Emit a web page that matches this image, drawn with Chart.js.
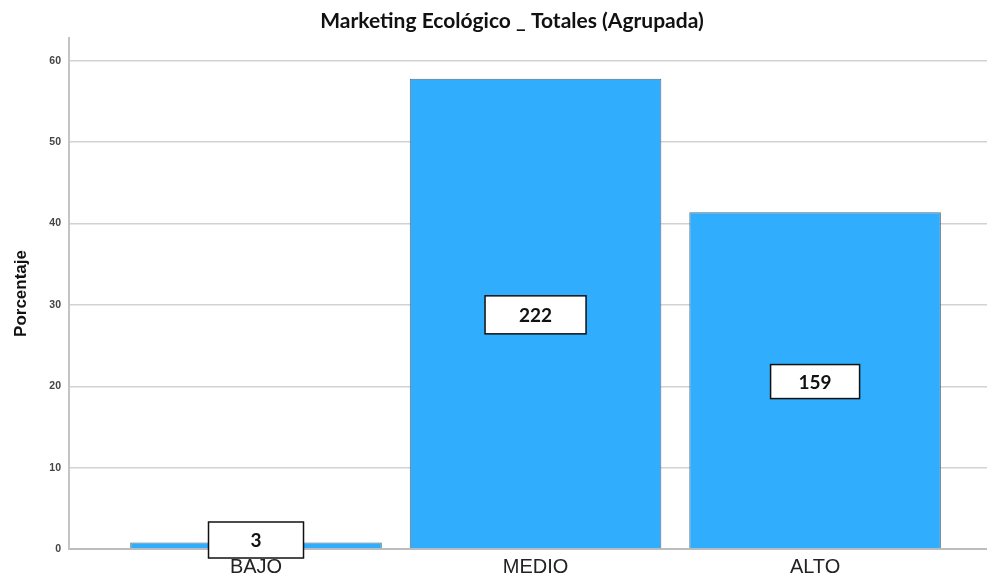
<!DOCTYPE html>
<html>
<head>
<meta charset="utf-8">
<script src="https://cdn.jsdelivr.net/npm/chart.js@4/dist/chart.umd.min.js"></script>
<style>
  html, body { margin: 0; padding: 0; background: #fff; }
  #wrap { width: 987px; height: 577px; }
</style>
</head>
<body>
<div id="wrap"><canvas id="chart" width="987" height="577"></canvas></div>
<script>
const categories = ['BAJO', 'MEDIO', 'ALTO'];
const counts = [3, 222, 159];
const percentages = [0.8, 57.8, 41.4];
const yTicks = [0, 10, 20, 30, 40, 50, 60];
const chartTitle = 'Marketing Ecológico _ Totales (Agrupada)';

// title drawn over the plot, a bit right of the canvas centre like the original
const titlePlugin = {
  id: 'titleText',
  afterDraw(chart) {
    const ctx = chart.ctx;
    ctx.save();
    ctx.font = 'bold 21px Lato, "Open Sans", sans-serif';
    ctx.fillStyle = '#111';
    ctx.textAlign = 'center';
    ctx.textBaseline = 'middle';
    ctx.fillText(chartTitle, 512, 21);
    ctx.restore();
  }
};

// white boxed count label in the middle of each bar
const countBoxes = {
  id: 'countBoxes',
  afterDatasetsDraw(chart) {
    const ctx = chart.ctx;
    const meta = chart.getDatasetMeta(0);
    const yScale = chart.scales.y;
    const boxW = [95, 101, 89];
    const boxH = [36, 38, 34];
    meta.data.forEach((bar, i) => {
      const w = boxW[i], h = boxH[i];
      let cy = yScale.getPixelForValue(percentages[i] / 2) + 1;
      cy = Math.min(cy, yScale.bottom - 9);
      const x = bar.x - w / 2, y = cy - h / 2;
      ctx.save();
      ctx.fillStyle = '#fff';
      ctx.fillRect(x, y, w, h);
      ctx.lineWidth = 1.5;
      ctx.strokeStyle = '#111';
      ctx.strokeRect(x, y, w, h);
      ctx.font = 'bold 19px Lato, "Open Sans", sans-serif';
      ctx.fillStyle = '#111';
      ctx.textAlign = 'center';
      ctx.textBaseline = 'middle';
      ctx.fillText(String(counts[i]), bar.x, cy + 1);
      ctx.restore();
    });
  }
};

new Chart(document.getElementById('chart').getContext('2d'), {
  type: 'bar',
  data: {
    datasets: [{
      data: categories.map((c, i) => ({ x: i, y: percentages[i] })),
      backgroundColor: '#31adfd',
      borderColor: '#5a6a78',
      borderWidth: 1,
      barPercentage: 0.9,
      categoryPercentage: 1.0
    }]
  },
  options: {
    responsive: false,
    animation: false,
    devicePixelRatio: 1,
    layout: { padding: { top: 38, right: 0, bottom: 0, left: 0 } },
    plugins: { legend: { display: false }, tooltip: { enabled: false } },
    scales: {
      x: {
        type: 'linear',
        offset: false,
        min: -0.669,
        max: 2.615,
        afterBuildTicks: (s) => { s.ticks = categories.map((c, i) => ({ value: i })); },
        afterFit: (s) => { s.height = 28; },
        grid: { display: false, drawTicks: false },
        border: { display: true, color: '#bdbdbd', width: 2 },
        ticks: {
          padding: 6,
          color: '#222',
          font: { family: '"Liberation Sans", Arial, sans-serif', size: 20 },
          callback: (v) => categories[v] ?? ''
        }
      },
      y: {
        min: 0,
        max: 62.8,
        afterBuildTicks: (s) => { s.ticks = yTicks.map(v => ({ value: v })); },
        afterFit: (s) => { s.width = 69; },
        grid: { color: '#d2d2d2', lineWidth: 1.5, drawTicks: false },
        border: { display: true, color: '#c4c4c4', width: 2 },
        ticks: {
          padding: 8,
          color: '#444',
          font: { family: '"Liberation Sans", Arial, sans-serif', size: 10.5, weight: 'bold' }
        },
        title: {
          display: true,
          text: 'Porcentaje',
          color: '#111',
          padding: { top: 11, bottom: 0 },
          font: { family: '"Liberation Sans", Arial, sans-serif', size: 17, weight: 'bold' }
        }
      }
    }
  },
  plugins: [titlePlugin, countBoxes]
});
</script>
</body>
</html>
